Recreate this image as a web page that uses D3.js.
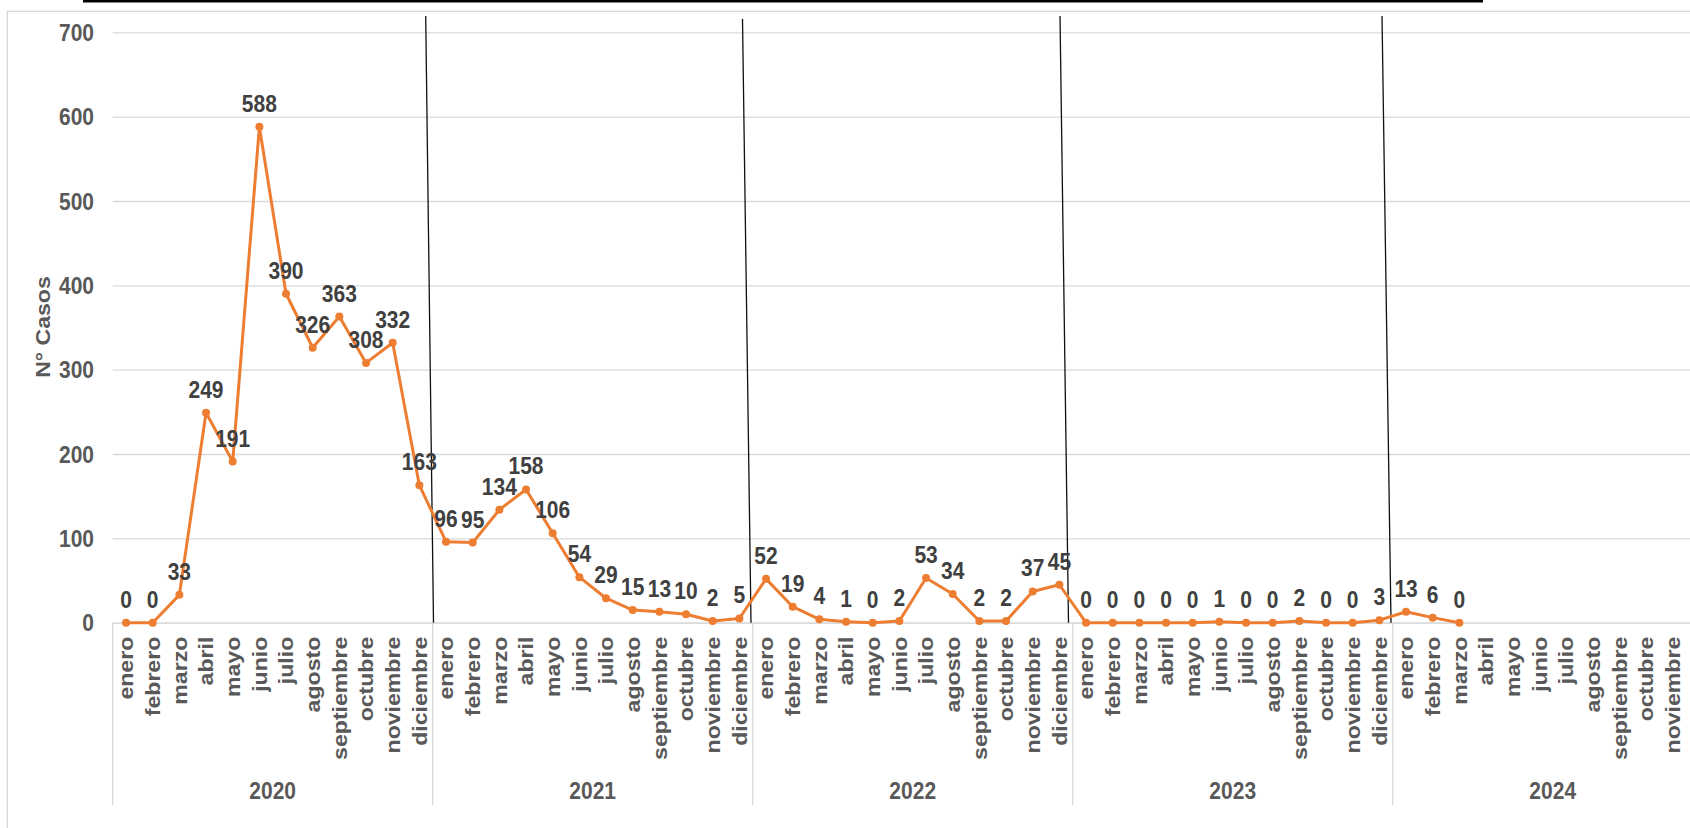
<!DOCTYPE html>
<html>
<head>
<meta charset="utf-8">
<script src="https://cdn.jsdelivr.net/npm/d3@7"></script>
<style>
  body { margin: 0; background: #fff; }
  svg { display: block; font-family: "Liberation Sans", Arial, sans-serif; font-weight: bold; }
</style>
</head>
<body>
<div id="chart"></div>
<script>
const years = ["2020", "2021", "2022", "2023", "2024"];
const months = ["enero", "febrero", "marzo", "abril", "mayo", "junio", "julio",
    "agosto", "septiembre", "octubre", "noviembre", "diciembre"];
const cases2020 = [0, 0, 33, 249, 191, 588, 390, 326, 363, 308, 332, 163];
const cases2021 = [96, 95, 134, 158, 106, 54, 29, 15, 13, 10, 2, 5];
const cases2022 = [52, 19, 4, 1, 0, 2, 53, 34, 2, 2, 37, 45];
const cases2023 = [0, 0, 0, 0, 0, 1, 0, 0, 2, 0, 0, 3];
const cases2024 = [13, 6, 0, null, null, null, null, null, null, null, null, null];
const yTicks = [0, 100, 200, 300, 400, 500, 600, 700];

const allCases = [].concat(cases2020, cases2021, cases2022, cases2023, cases2024);
const points = allCases.map((v, i) => ({ i: i, month: months[i % 12], value: v }));

const W = 1690, H = 828;
const plotLeft = 112.7, bw = 26.667;
const plotRight = plotLeft + bw * allCases.length;
const plotTop = 32.3, axisY = 622.7;
const stretch = "scale(1,1.1)"; // text in the picture is a bit taller than wide

const x = d3.scaleBand().domain(d3.range(allCases.length)).range([plotLeft, plotRight]);
const y = d3.scaleLinear().domain([0, 700]).range([axisY, plotTop]);

const svg = d3.select("#chart").append("svg")
    .attr("width", W)
    .attr("height", H);

svg.append("rect").attr("width", W).attr("height", H).attr("fill", "#fff");

// chart border (runs off the page at right / bottom)
svg.append("rect")
    .attr("x", 7.3).attr("y", 11.3)
    .attr("width", W + 50).attr("height", H + 50)
    .attr("fill", "none")
    .attr("stroke", "#d9d9d9")
    .attr("stroke-width", 1.3);

// black bar at the very top
svg.append("line")
    .attr("x1", 83).attr("x2", 1483)
    .attr("y1", 1.2).attr("y2", 1.2)
    .attr("stroke", "#000")
    .attr("stroke-width", 2.6);

// y axis + gridlines
const yAxis = svg.append("g")
    .attr("transform", "translate(" + plotLeft + ",0)")
    .call(d3.axisLeft(y).tickValues(yTicks).tickSize(-(plotRight - plotLeft)).tickPadding(18.7));
yAxis.select(".domain").remove();
yAxis.selectAll(".tick line").attr("stroke", "#d9d9d9").attr("stroke-width", 1.3);
yAxis.selectAll(".tick text")
    .attr("fill", "#595959")
    .style("font-size", "21px")
    .attr("dy", "0.35em")
    .attr("transform", stretch);

// y axis title
svg.append("text")
    .attr("transform", "translate(50,327) " + stretch + " rotate(-90)")
    .attr("text-anchor", "middle")
    .attr("fill", "#595959")
    .style("font-size", "21px")
    .text("N° Casos");

// x axis: months
const xAxis = svg.append("g")
    .attr("transform", "translate(0," + axisY + ")")
    .call(d3.axisBottom(x).tickSize(0).tickSizeOuter(0).tickFormat(i => months[i % 12]));
xAxis.select(".domain").attr("stroke", "#d9d9d9").attr("stroke-width", 1.3);
xAxis.selectAll(".tick text")
    .attr("fill", "#595959")
    .style("font-size", "21px")
    .attr("text-anchor", "end")
    .attr("x", null)
    .attr("y", null)
    .attr("dy", "0.35em")
    .attr("transform", "translate(0,14) " + stretch + " rotate(-90)");

// year separators and labels
const yearStarts = years.map((yr, k) => x(k * 12));
svg.append("g").selectAll("line")
    .data(yearStarts)
    .join("line")
    .attr("x1", d => d).attr("x2", d => d)
    .attr("y1", axisY).attr("y2", 805)
    .attr("stroke", "#d9d9d9")
    .attr("stroke-width", 1.3);

svg.append("g").selectAll("text")
    .data(years)
    .join("text")
    .attr("transform", (d, k) => "translate(" + (x(k * 12) + 6 * x.bandwidth()) + ",799) " + stretch)
    .attr("text-anchor", "middle")
    .attr("fill", "#595959")
    .style("font-size", "21px")
    .text(d => d);

// hand drawn year dividers (top / bottom offset from each year start)
const dividerOffsets = [[-7, 0.8, 16], [-10.2, -1.7, 19], [-12.7, -4.2, 16], [-10.7, -1.7, 16]];
svg.append("g").selectAll("line")
    .data(dividerOffsets)
    .join("line")
    .attr("x1", (d, k) => x((k + 1) * 12) + d[0])
    .attr("y1", d => d[2])
    .attr("x2", (d, k) => x((k + 1) * 12) + d[1])
    .attr("y2", axisY)
    .attr("stroke", "#111")
    .attr("stroke-width", 1.3);

// the series
const cx = d => x(d.i) + x.bandwidth() / 2;
const line = d3.line()
    .defined(d => d.value !== null)
    .x(cx)
    .y(d => y(d.value));

const shown = points.filter(d => d.value !== null);

svg.append("path")
    .datum(points)
    .attr("fill", "none")
    .attr("stroke", "#ED7D31")
    .attr("stroke-width", 3)
    .attr("stroke-linejoin", "round")
    .attr("d", line);

svg.append("g").selectAll("circle")
    .data(shown)
    .join("circle")
    .attr("cx", cx)
    .attr("cy", d => y(d.value))
    .attr("r", 4)
    .attr("fill", "#ED7D31");

// data labels
svg.append("g").selectAll("text")
    .data(shown)
    .join("text")
    .attr("transform", d => "translate(" + cx(d) + "," + (y(d.value) - 15) + ") " + stretch)
    .attr("text-anchor", "middle")
    .attr("fill", "#404040")
    .style("font-size", "21px")
    .text(d => d.value);
</script>
</body>
</html>
